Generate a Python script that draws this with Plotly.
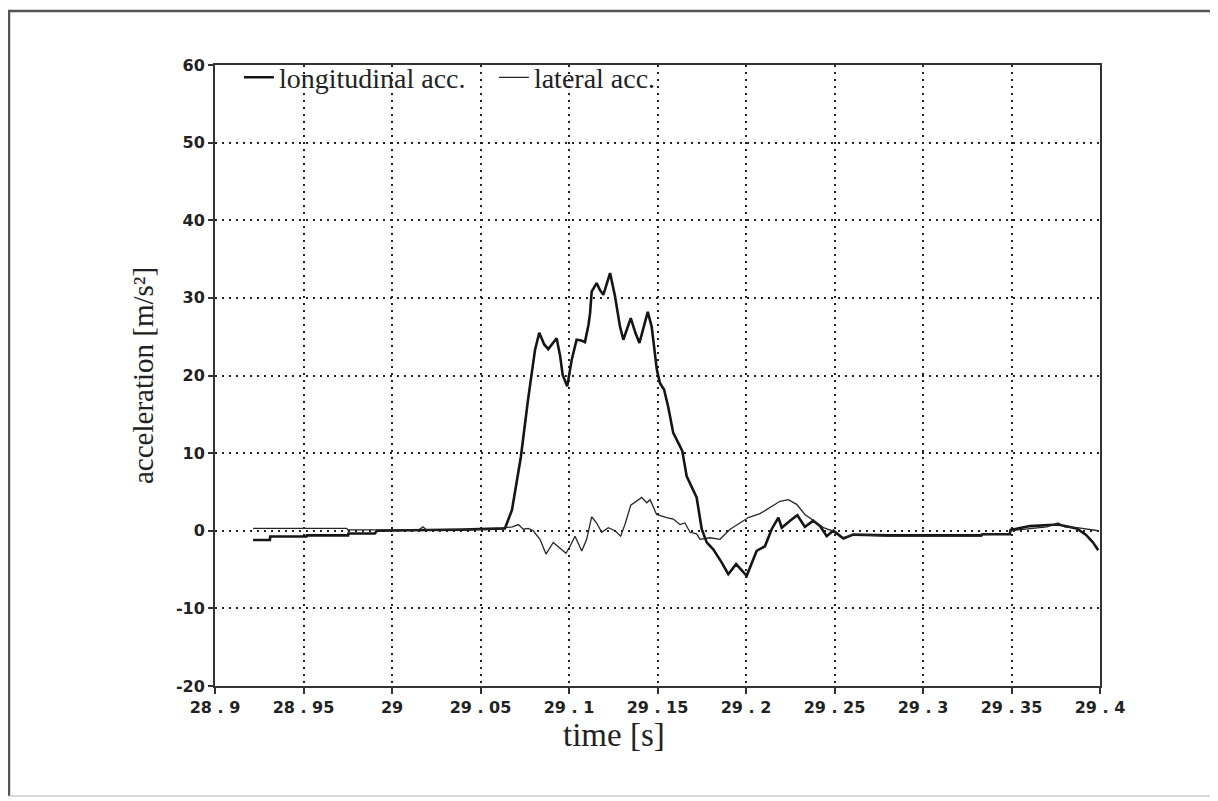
import plotly.graph_objects as go

# ---- data ----
long_t = [28.9215, 28.9310, 28.9312, 28.9517, 28.9519, 28.9752, 28.9754, 28.9903, 28.9915,
          29.000, 29.020, 29.040, 29.060, 29.0638, 29.0678, 29.0728, 29.0768, 29.0789,
          29.0808, 29.0832, 29.0860, 29.0883, 29.0910, 29.0930, 29.0950, 29.0964, 29.0990,
          29.1015, 29.1043, 29.1070, 29.1090, 29.1110, 29.1119, 29.1128, 29.1156, 29.1175,
          29.1194, 29.1232, 29.1260, 29.1288, 29.1307, 29.1349, 29.1375, 29.1398, 29.1445,
          29.1467, 29.1496, 29.1514, 29.1537, 29.1560, 29.1589, 29.1640, 29.1665, 29.1721,
          29.1750, 29.1778, 29.1815, 29.1863, 29.1900, 29.1944, 29.2004, 29.2032, 29.2060,
          29.2107, 29.2145, 29.2183, 29.2202, 29.2249, 29.2290, 29.2333, 29.2380, 29.2418,
          29.2456, 29.2493, 29.2550, 29.2606, 29.2800, 29.3000, 29.3330, 29.3335, 29.3490,
          29.3495, 29.3605, 29.3763, 29.3868, 29.3920, 29.3960, 29.3990]
long_v = [-1.2, -1.2, -0.75, -0.75, -0.6, -0.6, -0.35, -0.35, 0.0,
          0.05, 0.1, 0.15, 0.2, 0.3, 2.7, 9.5, 16.8, 20.1,
          23.3, 25.5, 24.0, 23.4, 24.2, 24.8, 22.5, 20.1, 18.6,
          22.0, 24.6, 24.5, 24.3, 26.5, 28.0, 30.8, 31.9, 31.0,
          30.4, 33.2, 30.2, 26.3, 24.6, 27.4, 25.5, 24.2, 28.2,
          26.3, 20.8, 19.0, 18.2, 16.0, 12.6, 10.3, 7.0, 4.3,
          0.2, -1.5, -2.4, -4.1, -5.6, -4.3, -5.8, -4.3, -2.6,
          -2.0, 0.2, 1.7, 0.4, 1.3, 2.0, 0.5, 1.3, 0.6,
          -0.7, 0.0, -1.0, -0.5, -0.6, -0.6, -0.6, -0.45, -0.45,
          0.1, 0.6, 0.8, 0.3, -0.5, -1.5, -2.5]

lat_t = [28.9215, 28.9745, 28.9750, 29.0150, 29.0175, 29.0195, 29.0400, 29.0600, 29.0638,
         29.0680, 29.0714, 29.0742, 29.0770, 29.0798, 29.0836, 29.0870, 29.0911, 29.0949,
         29.0983, 29.1006, 29.1034, 29.1072, 29.1100, 29.1128, 29.1156, 29.1185, 29.1222,
         29.1260, 29.1292, 29.1316, 29.1349, 29.1411, 29.1439, 29.1458, 29.1495, 29.1552,
         29.1589, 29.1627, 29.1655, 29.1684, 29.1721, 29.1740, 29.1797, 29.1853, 29.1910,
         29.1966, 29.2013, 29.2079, 29.2136, 29.2192, 29.2239, 29.2286, 29.2333, 29.2380,
         29.2437, 29.2512, 29.2550, 29.2606, 29.2800, 29.3000, 29.3330, 29.3335, 29.3490,
         29.3495, 29.3605, 29.3700, 29.3763, 29.3800, 29.3870, 29.3950, 29.3990]
lat_v = [0.3, 0.3, 0.1, 0.1, 0.5, 0.1, 0.15, 0.2, 0.4,
         0.5, 0.8, 0.2, 0.3, 0.0, -1.1, -3.0, -1.5, -2.2,
         -2.9, -2.0, -0.7, -2.6, -1.1, 1.8, 1.0, -0.2, 0.4,
         0.0, -0.7, 0.8, 3.3, 4.3, 3.6, 4.0, 2.1, 1.7,
         1.5, 0.8, 1.0, -0.2, -0.4, -1.1, -0.9, -1.1, 0.2,
         1.0, 1.7, 2.2, 3.0, 3.8, 4.0, 3.4, 2.1, 1.3,
         0.4, -0.2, -0.9, -0.5, -0.7, -0.7, -0.7, -0.5, -0.4,
         0.0, 0.3, 0.5, 1.0, 0.5, 0.4, 0.1, 0.0]

x_ticks = [28.9, 28.95, 29.0, 29.05, 29.1, 29.15, 29.2, 29.25, 29.3, 29.35, 29.4]
x_ticklabels = ["28 . 9", "28 . 95", "29", "29 . 05", "29 . 1", "29 . 15",
                "29 . 2", "29 . 25", "29 . 3", "29 . 35", "29 . 4"]
y_ticks = [-20, -10, 0, 10, 20, 30, 40, 50, 60]
y_ticklabels = ["-20", "-10", "0", "10", "20", "30", "40", "50", "60"]

fig = go.Figure()
fig.add_trace(go.Scatter(x=long_t, y=long_v, mode="lines", name="longitudinal acc.",
                         line=dict(color="#151515", width=2.6)))
fig.add_trace(go.Scatter(x=lat_t, y=lat_v, mode="lines", name="lateral acc.",
                         line=dict(color="#262626", width=1.3)))

tickfont = dict(family="DejaVu Sans", size=16, color="#222222", weight="bold")
fig.update_xaxes(range=[28.9, 29.4], tickvals=x_ticks, ticktext=x_ticklabels,
                 showgrid=True, gridcolor="#222222", gridwidth=2, griddash="2px,5px",
                 showline=True, linecolor="#333333", linewidth=2, mirror=True,
                 ticks="outside", ticklen=6, tickwidth=2, tickcolor="#333333",
                 tickfont=tickfont, zeroline=False)
fig.update_yaxes(range=[-20, 60], tickvals=y_ticks, ticktext=y_ticklabels,
                 showgrid=True, gridcolor="#222222", gridwidth=2, griddash="2px,5px",
                 showline=True, linecolor="#333333", linewidth=2, mirror=True,
                 ticks="outside", ticklen=5, tickwidth=2, tickcolor="#333333",
                 tickfont=tickfont, zeroline=False)

fig.update_layout(
    width=1210, height=793,
    margin=dict(l=207, r=118, t=57, b=115),
    paper_bgcolor="white", plot_bgcolor="white",
    showlegend=True,
    legend=dict(orientation="h", x=0.027, y=1.02, xanchor="left", yanchor="top",
                bgcolor="rgba(0,0,0,0)", font=dict(family="Liberation Serif", size=28, color="#222222"),
                itemwidth=30, tracegroupgap=0, entrywidth=210, entrywidthmode="pixels"),
    annotations=[
        dict(text="acceleration [m/s²]", xref="paper", yref="paper", x=-0.0819, y=0.5,
             xanchor="center", yanchor="middle", textangle=-90, showarrow=False,
             font=dict(family="Liberation Serif", size=29, color="#222222")),
        dict(text="time [s]", xref="paper", yref="paper", x=0.4503, y=-0.079,
             xanchor="center", yanchor="middle", showarrow=False,
             font=dict(family="Liberation Serif", size=33, color="#222222")),
    ],
    shapes=[
        dict(type="path", xref="paper", yref="paper",
             path="M -0.2328,-0.1771 L -0.2328,1.087 L 1.1266,1.087",
             line=dict(color="#555555", width=2.5), layer="below"),
        dict(type="path", xref="paper", yref="paper",
             path="M 1.1266,1.087 L 1.1266,-0.1771 L -0.2328,-0.1771",
             line=dict(color="#cccccc", width=1.5), layer="below"),
    ],
)

fig.write_html("out.html")
